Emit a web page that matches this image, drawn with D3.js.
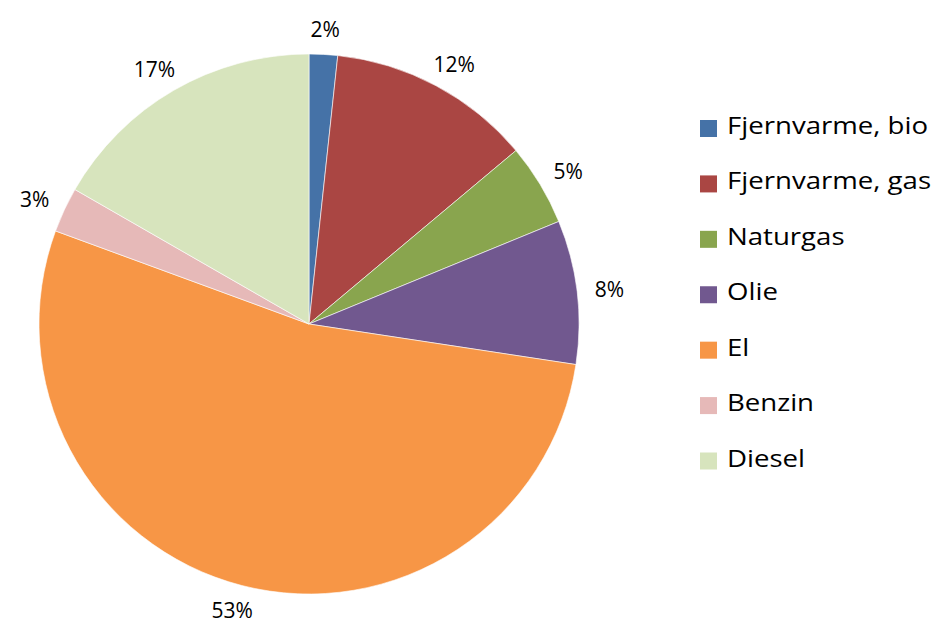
<!DOCTYPE html>
<html>
<head>
<meta charset="utf-8">
<script src="https://cdn.jsdelivr.net/npm/d3@7"></script>
<style>
  html, body { margin: 0; padding: 0; background: #fff; }
  svg { display: block; }
  text { font-family: "Open Sans", sans-serif; fill: #000; }
</style>
</head>
<body>
<svg id="chart" width="935" height="624"></svg>
<script>
// Data
const categories = ["Fjernvarme, bio", "Fjernvarme, gas", "Naturgas", "Olie", "El", "Benzin", "Diesel"];
const values = [1.7, 12.2, 4.9, 8.6, 53.2, 2.7, 16.7];
const pctLabels = ["2%", "12%", "5%", "8%", "53%", "3%", "17%"];
const colors = ["#4572A7", "#AA4643", "#89A54E", "#71588F", "#F79646", "#E6B9B8", "#D7E4BD"];

const svg = d3.select("#chart");
const cx = 309, cy = 324, r = 270;

const data = categories.map((c, i) => ({ name: c, value: values[i], label: pctLabels[i], color: colors[i] }));

const pie = d3.pie().value(d => d.value).sort(null);
const arcs = pie(data);
const arc = d3.arc().innerRadius(0).outerRadius(r);

const g = svg.append("g").attr("transform", `translate(${cx},${cy})`);

g.selectAll("path.slice")
  .data(arcs)
  .join("path")
  .attr("class", "slice")
  .attr("d", arc)
  .attr("fill", d => d.data.color)
  .attr("stroke", "#ffffff")
  .attr("stroke-width", 1)
  .attr("stroke-opacity", 0.6);

// Labels: box placed just outside the arc end, offset by half its size
const gap = 18, halfH = 7;
const labels = g.selectAll("text.pct")
  .data(arcs)
  .join("text")
  .attr("class", "pct")
  .attr("text-anchor", "middle")
  .attr("dominant-baseline", "central")
  .attr("font-size", 21)
  .text(d => d.data.label);

labels.each(function(d) {
  const a = (d.startAngle + d.endAngle) / 2;
  const w = this.getComputedTextLength();
  const s = Math.sin(a), c = Math.cos(a);
  const x = s * (r + gap) + s * w / 2;
  const y = -c * (r + gap) - c * halfH;
  d3.select(this).attr("x", x).attr("y", y);
});

// Legend
const legY = d3.scalePoint().domain(categories).range([128.5, 461]);
const leg = svg.append("g");
const items = leg.selectAll("g.item")
  .data(data)
  .join("g")
  .attr("class", "item")
  .attr("transform", d => `translate(700,${legY(d.name)})`);

items.append("rect")
  .attr("x", 0).attr("y", -8.5)
  .attr("width", 17).attr("height", 17)
  .attr("fill", d => d.color);

items.append("text")
  .attr("transform", "translate(27,5.5) scale(1.2,1)")
  .attr("font-size", 23)
  .text(d => d.name);
</script>
</body>
</html>
